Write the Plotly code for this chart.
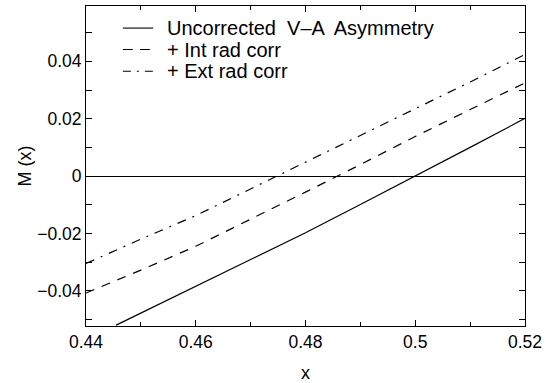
import plotly.graph_objects as go

# Data
x_unc = [0.4455, 0.45, 0.46, 0.47, 0.48, 0.49, 0.50, 0.51, 0.52]
y_unc = [-0.0520, -0.0478, -0.0386, -0.0292, -0.0198, -0.0099, 0.0, 0.0100, 0.0201]

x_int = [0.44, 0.45, 0.46, 0.47, 0.48, 0.49, 0.50, 0.51, 0.52]
y_int = [-0.0408, -0.0328, -0.0245, -0.0151, -0.0056, 0.0040, 0.0138, 0.0232, 0.0325]

x_ext = [0.44, 0.45, 0.46, 0.47, 0.48, 0.49, 0.50, 0.51, 0.52]
y_ext = [-0.0305, -0.0220, -0.0138, -0.0045, 0.0048, 0.0141, 0.0234, 0.0328, 0.0424]

names = ["Uncorrected  V\u2013A  Asymmetry", "+ Int rad corr", "+ Ext rad corr"]
dashes = ["solid", "9px,8px", "9px,7px,2px,7px"]
legend_dashes = ["solid", "10px,7px", "8px,6px,2px,6px"]

x_ticks = [0.44, 0.46, 0.48, 0.50, 0.52]
x_tick_labels = ["0.44", "0.46", "0.48", "0.5", "0.52"]
y_ticks = [-0.04, -0.02, 0, 0.02, 0.04]
y_tick_labels = ["\u22120.04", "\u22120.02", "0", "0.02", "0.04"]

font = "Liberation Sans, Arial, Helvetica, sans-serif"
fs = 17.5

fig = go.Figure()
for xs, ys, nm, ds in zip([x_unc, x_int, x_ext], [y_unc, y_int, y_ext], names, dashes):
    fig.add_trace(go.Scatter(x=xs, y=ys, mode="lines", name=nm, showlegend=False,
                             line=dict(color="black", width=1.2, dash=ds)))

# Hand-placed legend (compact row spacing like the reference)
leg_rows_y = [0.931, 0.864, 0.796]
for nm, ds, yy in zip(names, legend_dashes, leg_rows_y):
    fig.add_shape(type="line", xref="x domain", yref="y domain",
                  x0=0.084, x1=0.153, y0=yy, y1=yy,
                  line=dict(color="black", width=1.1, dash=ds))
    fig.add_annotation(xref="x domain", yref="y domain", x=0.181, y=yy,
                       xanchor="left", yanchor="middle", showarrow=False,
                       text=nm, font=dict(family=font, size=20, color="black"))

axis_common = dict(
    showgrid=False, showline=True, linecolor="black", linewidth=1,
    mirror="allticks", ticks="inside", ticklen=6, tickcolor="black",
    tickfont=dict(family=font, size=fs, color="black"),
    automargin=False,
)

fig.update_xaxes(range=[0.44, 0.52], tickvals=x_ticks, ticktext=x_tick_labels,
                 zeroline=False,
                 minor=dict(dtick=0.01, ticks="inside", ticklen=4, tickcolor="black"),
                 title=dict(text="x", font=dict(family=font, size=18, color="black"), standoff=24),
                 **axis_common)
fig.update_yaxes(range=[-0.0523, 0.0593], tickvals=y_ticks, ticktext=y_tick_labels,
                 zeroline=True, zerolinecolor="black", zerolinewidth=1,
                 minor=dict(tickvals=[-0.05, -0.03, -0.01, 0.01, 0.03, 0.05], ticks="inside", ticklen=6, tickcolor="black"),
                 title=dict(text="M (x)", font=dict(family=font, size=18, color="black"), standoff=0),
                 **axis_common)

fig.update_layout(
    width=546, height=383,
    margin=dict(l=86, r=21, t=6, b=57),
    paper_bgcolor="white", plot_bgcolor="white",
    font=dict(family=font, size=fs, color="black"),
    showlegend=False,
)

fig.write_html("out.html", config={"displayModeBar": False},
               post_script="document.body.style.margin='0';document.body.style.padding='0';")
